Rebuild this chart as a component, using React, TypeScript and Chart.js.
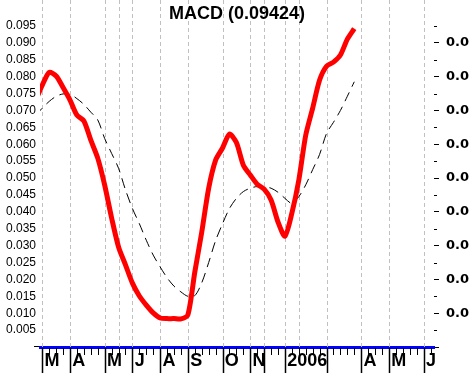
import { useEffect, useRef } from "react";
import { Chart, registerables } from "chart.js";

Chart.register(...registerables);

const weeks = [-1, 0, 1, 2, 3, 4, 5, 6, 7, 8, 9, 10, 11, 12, 13, 14, 15, 16, 17, 18, 19, 20, 21, 22, 23, 24, 25, 26, 27, 28, 29, 30, 31, 32, 33, 34, 35, 36, 37, 38, 39, 40, 41, 42, 43, 44, 45];
const macdValues = [0.0728, 0.0775, 0.0813, 0.0802, 0.0768, 0.0731, 0.0686, 0.0669, 0.0612, 0.0559, 0.0479, 0.0382, 0.0296, 0.0243, 0.0189, 0.0151, 0.0124, 0.0101, 0.0086, 0.0084, 0.0084, 0.0083, 0.0095, 0.0222, 0.034, 0.047, 0.0553, 0.0589, 0.063, 0.0605, 0.0538, 0.0509, 0.0482, 0.0467, 0.0435, 0.037, 0.0328, 0.0396, 0.0494, 0.0627, 0.0707, 0.079, 0.0831, 0.0843, 0.0864, 0.0911, 0.09424];
const signalValues = [0.0685, 0.0707, 0.0727, 0.0742, 0.0749, 0.0748, 0.0735, 0.0718, 0.0695, 0.0672, 0.0617, 0.0573, 0.0529, 0.0465, 0.041, 0.0365, 0.0316, 0.0272, 0.0237, 0.0205, 0.018, 0.0163, 0.015, 0.0152, 0.019, 0.025, 0.0315, 0.0365, 0.041, 0.044, 0.046, 0.047, 0.0475, 0.0474, 0.047, 0.0458, 0.044, 0.0425, 0.0445, 0.048, 0.0525, 0.057, 0.0632, 0.0665, 0.07, 0.0742, 0.0785];

const monthLabels = ["M", "A", "M", "J", "A", "S", "O", "N", "2006", "A", "M", "J"];
const monthLabelWeeks = [0, 4, 9, 13, 17, 21, 26, 30, 35, 46, 50, 55];
const boundaryWeeks = [0, 4, 9, 13, 17, 21, 26, 30, 32, 35, 41, 46, 50, 55];
const gridWeeks = [0, 4, 9, 11, 13, 17, 21, 26, 30, 32, 35, 37, 41, 46, 50, 55];
const leftTickValues = [0.005, 0.01, 0.015, 0.02, 0.025, 0.03, 0.035, 0.04, 0.045, 0.05, 0.055, 0.06, 0.065, 0.07, 0.075, 0.08, 0.085, 0.09, 0.095];
const rightTickValues = [0, 0.01, 0.02, 0.03, 0.04, 0.05, 0.06, 0.07, 0.08, 0.09];
const rightMinorValues = [0.005, 0.015, 0.025, 0.035, 0.045, 0.055, 0.065, 0.075, 0.085, 0.095];
const titleText = "MACD (0.09424)";

const Y_MAX = 0.1027;
const X_MIN = -0.33;
const X_MAX = 56.5;

const decor = {
  id: "decor",
  beforeDatasetsDraw(chart: any) {
    const { ctx, chartArea, scales } = chart;
    const x = scales.x;
    ctx.save();
    ctx.strokeStyle = "#c0c0c0";
    ctx.lineWidth = 1;
    ctx.setLineDash([4, 3]);
    for (const w of gridWeeks) {
      const px = Math.round(x.getPixelForValue(w)) + 0.5;
      ctx.beginPath();
      ctx.moveTo(px, chartArea.top);
      ctx.lineTo(px, chartArea.bottom);
      ctx.stroke();
    }
    ctx.restore();
  },
  afterDraw(chart: any) {
    const { ctx, chartArea, scales } = chart;
    const x = scales.x;
    const y = scales.y;
    ctx.save();
    ctx.strokeStyle = "#000";
    ctx.lineWidth = 1;
    // weekly small ticks
    for (let w = 0; w <= 56; w++) {
      const px = Math.round(x.getPixelForValue(w)) + 0.5;
      ctx.beginPath();
      ctx.moveTo(px, chartArea.bottom + 1);
      ctx.lineTo(px, chartArea.bottom + 8);
      ctx.stroke();
    }
    // month boundary ticks
    ctx.lineWidth = 1.5;
    for (const w of boundaryWeeks) {
      const px = Math.round(x.getPixelForValue(w)) + 0.5;
      ctx.beginPath();
      ctx.moveTo(px, chartArea.bottom + 1);
      ctx.lineTo(px, chart.height);
      ctx.stroke();
    }
    // right minor ticks
    ctx.lineWidth = 1;
    for (const v of rightMinorValues) {
      const py = Math.round(y.getPixelForValue(v)) + 0.5;
      ctx.beginPath();
      ctx.moveTo(chartArea.right, py);
      ctx.lineTo(chartArea.right + 3, py);
      ctx.stroke();
    }
    // left zero tick
    const p0 = Math.round(y.getPixelForValue(0)) - 0.5;
    ctx.beginPath();
    ctx.moveTo(chartArea.left - 6, p0);
    ctx.lineTo(chartArea.left - 1, p0);
    ctx.stroke();
    // title
    ctx.fillStyle = "#000";
    ctx.font = "bold 18px 'Liberation Sans', Arial, sans-serif";
    ctx.textAlign = "center";
    ctx.textBaseline = "middle";
    ctx.fillText(titleText, (chartArea.left + chartArea.right) / 2, 14);
    ctx.restore();
  },
};

export default function App() {
  const ref = useRef<HTMLCanvasElement | null>(null);
  useEffect(() => {
    if (!ref.current) return;
    const chart = new Chart(ref.current, {
      type: "line",
      data: {
        datasets: [
          {
            label: "MACD",
            data: weeks.map((w, i) => ({ x: w, y: macdValues[i] })),
            borderColor: "#ff0000",
            borderWidth: 5,
            pointRadius: 0,
            tension: 0.25,
            fill: false,
            order: 1,
          },
          {
            label: "Signal",
            data: weeks.map((w, i) => ({ x: w, y: signalValues[i] })),
            borderColor: "#000000",
            borderWidth: 1,
            borderDash: [10, 6],
            pointRadius: 0,
            tension: 0.3,
            fill: false,
            order: 2,
          },
        ],
      },
      options: {
        animation: false,
        responsive: false,
        events: [],
        layout: { padding: 0 },
        plugins: { legend: { display: false }, tooltip: { enabled: false }, title: { display: false } },
        scales: {
          x: {
            type: "linear",
            position: "bottom",
            min: X_MIN,
            max: X_MAX,
            afterBuildTicks: (s: any) => {
              s.ticks = monthLabelWeeks.map((w) => ({ value: w + 0.33 }));
            },
            afterFit: (s: any) => {
              s.height = 26;
              s.paddingLeft = 0;
              s.paddingRight = 0;
            },
            grid: { display: false, drawTicks: false },
            border: { display: true, color: "#0000ff", width: 3 },
            ticks: {
              autoSkip: false,
              maxRotation: 0,
              minRotation: 0,
              align: "start",
              padding: 3,
              color: "#000",
              font: { family: "'Liberation Sans', Arial, sans-serif", size: 18, weight: "bold" },
              callback: (_v: any, i: number) => monthLabels[i],
            },
          },
          y: {
            type: "linear",
            position: "left",
            min: 0,
            max: Y_MAX,
            afterBuildTicks: (s: any) => {
              s.ticks = leftTickValues.map((v) => ({ value: v }));
            },
            afterFit: (s: any) => {
              s.width = 40;
              s.paddingTop = 0;
              s.paddingBottom = 0;
            },
            grid: { display: false, drawTicks: false },
            border: { display: false },
            ticks: {
              padding: 4,
              color: "#000",
              font: { family: "'Liberation Sans', Arial, sans-serif", size: 12 },
              callback: (v: any) => Number(v).toFixed(3),
            },
          },
          y2: {
            type: "linear",
            position: "right",
            min: 0,
            max: Y_MAX,
            afterBuildTicks: (s: any) => {
              s.ticks = rightTickValues.map((v) => ({ value: v }));
            },
            afterFit: (s: any) => {
              s.width = 38;
              s.paddingTop = 0;
              s.paddingBottom = 0;
            },
            grid: { drawOnChartArea: false, drawTicks: true, tickLength: 5, color: "#000", tickWidth: 1 },
            border: { display: false },
            ticks: {
              padding: 7,
              color: "#000",
              font: { family: "'DejaVu Sans', Verdana, sans-serif", size: 13, weight: "bold" },
              callback: (v: any) => (Number(v) === 0 ? "" : "0.0"),
            },
          },
        },
      },
      plugins: [decor],
    });
    return () => chart.destroy();
  }, []);
  return (
    <div style={{ position: "fixed", left: 0, top: 0, width: 472, height: 373, background: "#fff" }}>
      <canvas ref={ref} width={472} height={373} style={{ display: "block" }} />
    </div>
  );
}
